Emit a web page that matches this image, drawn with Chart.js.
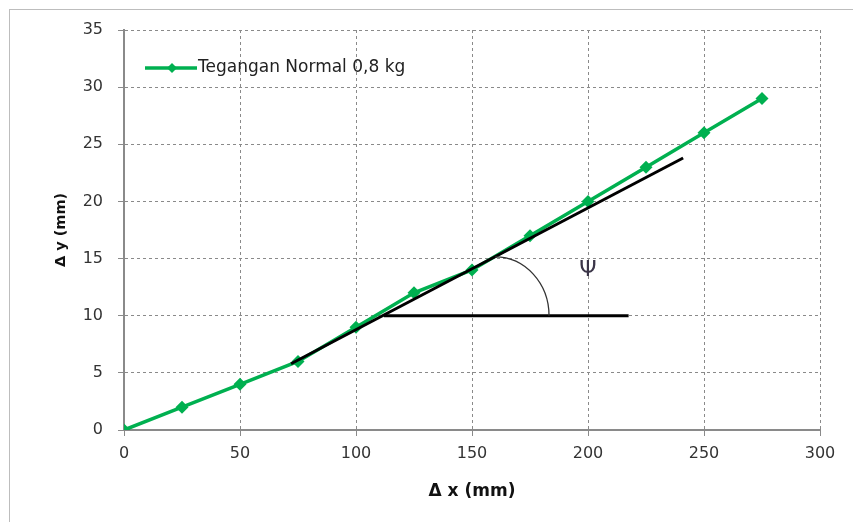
<!DOCTYPE html>
<html><head><meta charset="utf-8">
<script src="https://cdn.jsdelivr.net/npm/chart.js@4"></script>
<style>
html,body{margin:0;padding:0;background:#fff;overflow:hidden;}
#wrap{position:relative;width:853px;height:522px;overflow:hidden;}
#ftop{position:absolute;left:9px;top:9px;width:844px;height:1px;background:#bdbdbd;}
#fleft{position:absolute;left:9px;top:9px;width:1px;height:513px;background:#bdbdbd;}
canvas{position:absolute;left:0;top:0;}
</style></head>
<body><div id="wrap"><div id="ftop"></div><div id="fleft"></div><canvas id="c" width="853" height="522"></canvas></div>
<script>
const seriesName = 'Tegangan Normal 0,8 kg';
const xValues = [0, 25, 50, 75, 100, 125, 150, 175, 200, 225, 250, 275];
const yValues = [0, 2, 4, 6, 9, 12, 14, 17, 20, 23, 26, 29];
const tangentLine = [{x: 72, y: 5.8}, {x: 241, y: 23.8}];
const horizontalLine = [{x: 112, y: 10}, {x: 217.5, y: 10}];
const angleArc = {cx: 160, cy: 10, rx: 23.2, ry: 5.15};
const angleLabel = {x: 200, y: 14, text: 'Ψ'};
const xTitle = 'Δ x (mm)';
const yTitle = 'Δ y (mm)';
const xTicks = [0, 50, 100, 150, 200, 250, 300];
const yTicks = [0, 5, 10, 15, 20, 25, 30, 35];

const green = '#00B050';
const gridColor = '#8a8a8a';
const axisColor = '#8a8a8a';
const tickFont = {family: 'DejaVu Sans', size: 16};

const overlay = {
  id: 'overlay',
  afterDatasetsDraw(chart) {
    const {ctx, scales: {x, y}, chartArea} = chart;
    ctx.save();
    const cx = x.getPixelForValue(angleArc.cx), cy = y.getPixelForValue(angleArc.cy);
    const rx = x.getPixelForValue(angleArc.cx + angleArc.rx) - cx;
    const ry = cy - y.getPixelForValue(angleArc.cy + angleArc.ry);
    ctx.beginPath();
    ctx.ellipse(cx, cy, rx, ry, 0, -Math.PI / 2, 0);
    ctx.strokeStyle = '#333';
    ctx.lineWidth = 1.3;
    ctx.stroke();
    ctx.fillStyle = '#3b3548';
    ctx.font = '22px "DejaVu Sans"';
    ctx.textAlign = 'center';
    ctx.textBaseline = 'middle';
    ctx.fillText(angleLabel.text, x.getPixelForValue(angleLabel.x), y.getPixelForValue(angleLabel.y));
    const lx = chartArea.left + 21, ly = chartArea.top + 38;
    ctx.beginPath();
    ctx.moveTo(lx, ly); ctx.lineTo(lx + 52, ly);
    ctx.strokeStyle = green; ctx.lineWidth = 3.5; ctx.stroke();
    ctx.beginPath();
    const mx = lx + 27, s = 5;
    ctx.moveTo(mx, ly - s); ctx.lineTo(mx + s, ly); ctx.lineTo(mx, ly + s); ctx.lineTo(mx - s, ly); ctx.closePath();
    ctx.fillStyle = green; ctx.fill();
    ctx.fillStyle = '#222';
    ctx.font = '17px "DejaVu Sans"';
    ctx.textAlign = 'left';
    ctx.fillText(seriesName, lx + 53, ly);
    ctx.restore();
  }
};

new Chart(document.getElementById('c'), {
  type: 'scatter',
  data: {
    datasets: [
      {label: 'tangent', data: tangentLine, showLine: true, borderColor: '#000', borderWidth: 3, pointRadius: 0, order: 0},
      {label: 'horizontal', data: horizontalLine, showLine: true, borderColor: '#000', borderWidth: 3, pointRadius: 0, order: 0},
      {label: seriesName, data: xValues.map((v, i) => ({x: v, y: yValues[i]})), showLine: true,
       borderColor: green, backgroundColor: green, borderWidth: 3.5, pointStyle: 'rectRot', pointRadius: 6.5, pointBorderWidth: 0, order: 1}
    ]
  },
  options: {
    responsive: false,
    animation: false,
    layout: {padding: {left: 0, top: 30, right: 33, bottom: 0}},
    plugins: {legend: {display: false}, tooltip: {enabled: false}},
    scales: {
      x: {
        type: 'linear', min: 0, max: 300,
        afterBuildTicks: s => { s.ticks = xTicks.map(v => ({value: v})); },
        afterFit: s => { s.height = 92; },
        grid: {color: gridColor, tickLength: 6, tickColor: axisColor, tickBorderDash: [], lineWidth: 1},
        border: {color: axisColor, width: 2, dash: [3, 3]},
        ticks: {font: tickFont, color: '#333', padding: 8, maxRotation: 0},
        title: {display: true, text: xTitle, font: {family: 'DejaVu Sans', size: 17, weight: 'bold'}, color: '#111', padding: {bottom: 20}}
      },
      y: {
        type: 'linear', min: 0, max: 35,
        afterBuildTicks: s => { s.ticks = yTicks.map(v => ({value: v})); },
        afterFit: s => { s.width = 124; },
        grid: {color: gridColor, tickLength: 6, tickColor: axisColor, tickBorderDash: [], lineWidth: 1},
        border: {color: axisColor, width: 2, dash: [3, 3]},
        ticks: {font: tickFont, color: '#333', padding: 15},
        title: {display: true, text: yTitle, font: {family: 'DejaVu Sans', size: 14.5, weight: 'bold'}, color: '#111', padding: {top: 53}}
      }
    }
  },
  plugins: [overlay]
});
</script></body></html>
